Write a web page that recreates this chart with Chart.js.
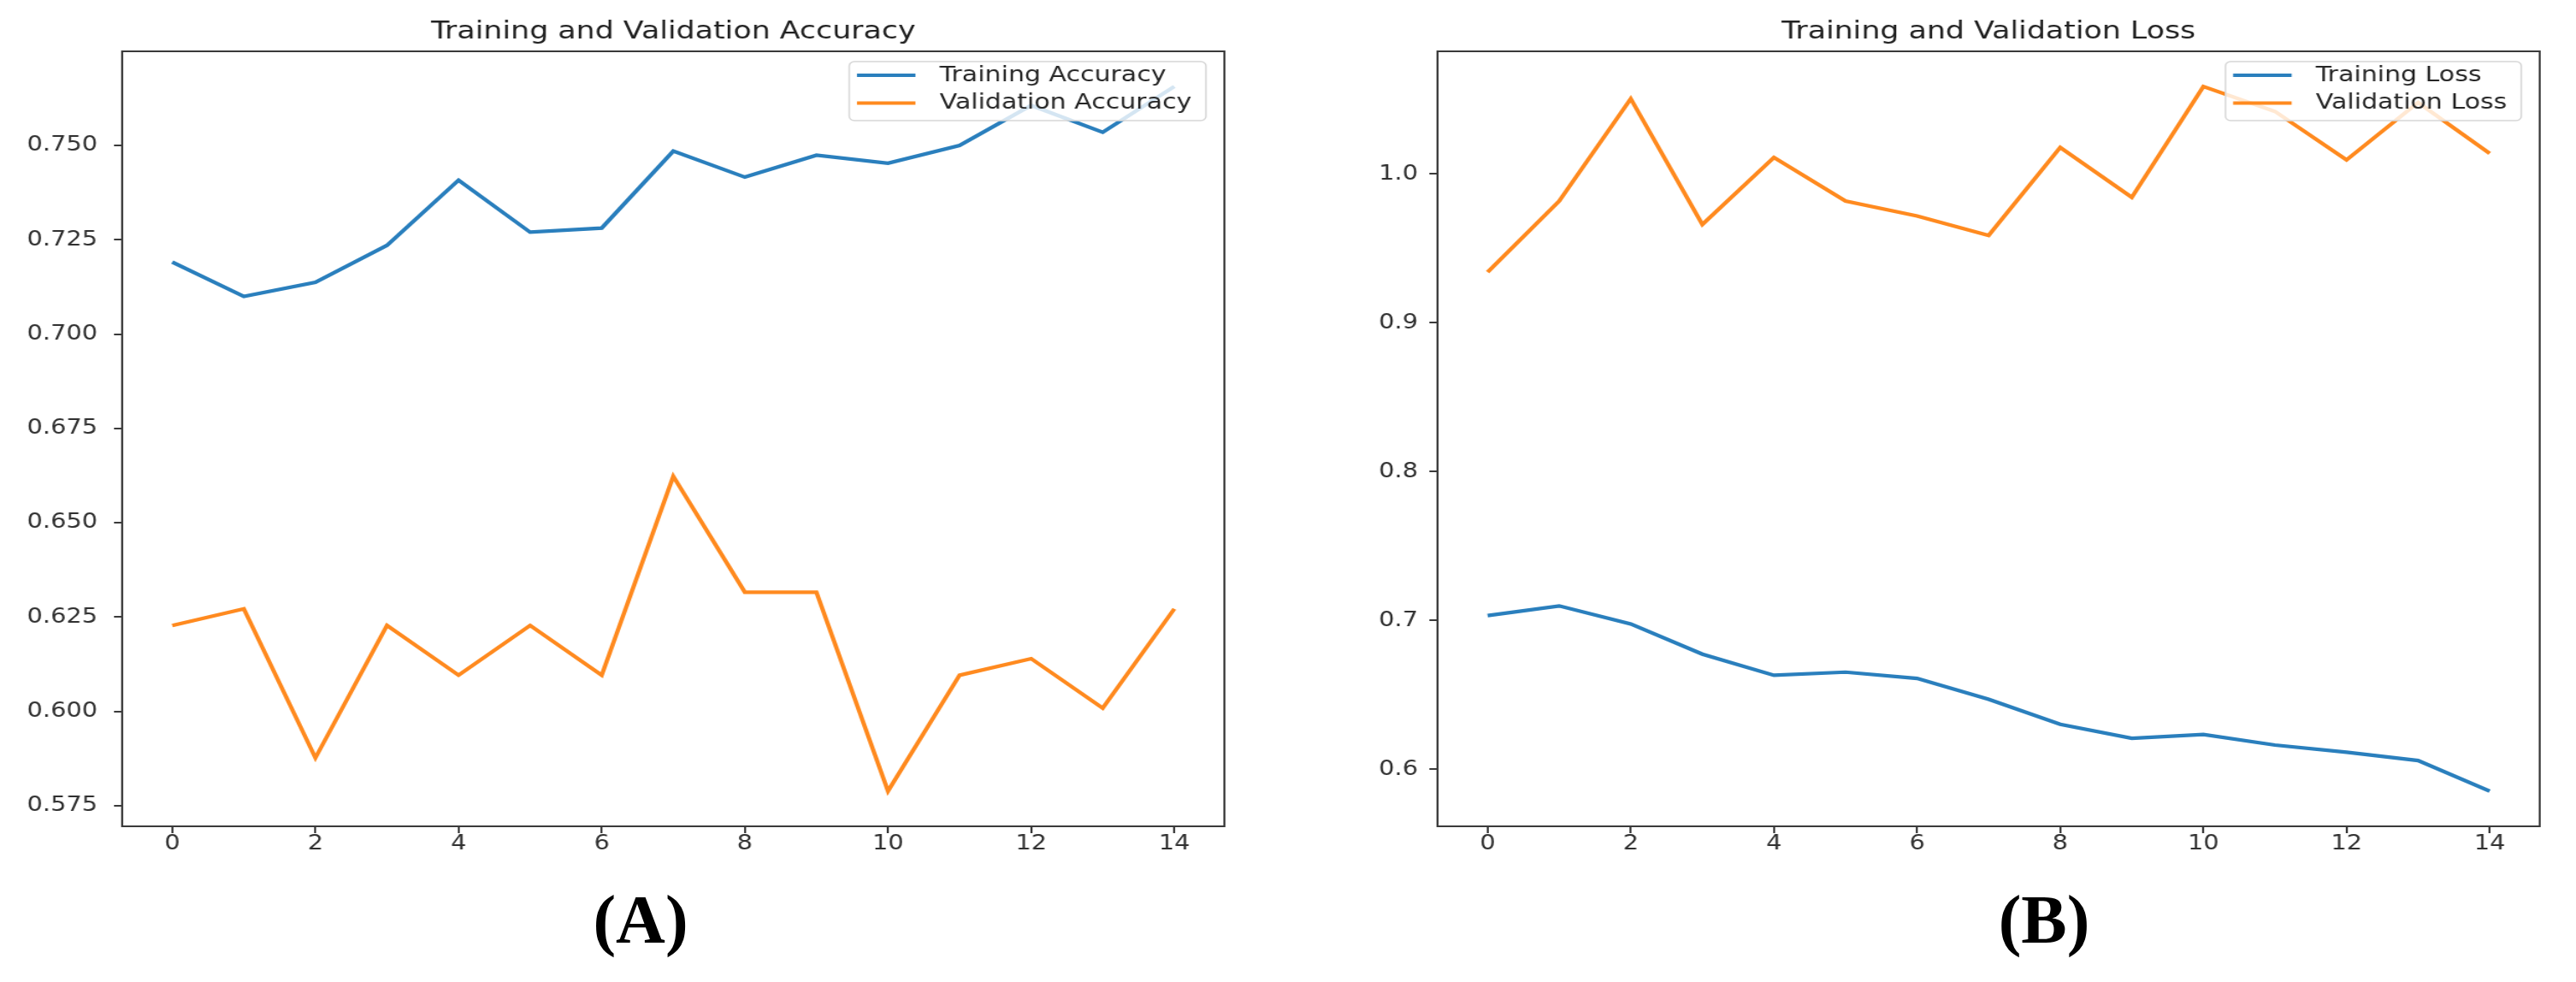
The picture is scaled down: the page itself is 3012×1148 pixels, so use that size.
<!DOCTYPE html>
<html>
<head>
<meta charset="utf-8">
<script src="https://cdn.jsdelivr.net/npm/chart.js@4.4.1/dist/chart.umd.min.js"></script>
<style>
  html, body { margin: 0; padding: 0; background: #fff; }
  body { width: 3012px; height: 1148px; position: relative; overflow: hidden; }
  /* the source figure is stretched a bit horizontally */
  .panel { position: absolute; top: 0; transform: scaleX(1.2); transform-origin: 0 0; }
  .tag { position: absolute; top: 1030px; width: 400px; text-align: center; line-height: 1;
         font: bold 80px "Liberation Serif", "Times New Roman", serif; color: #000; }
</style>
</head>
<body>
<div class="panel" style="left:0px"><canvas id="accChart" width="1197" height="1148"></canvas></div>
<div class="panel" style="left:1538px"><canvas id="lossChart" width="1197" height="1148"></canvas></div>
<div class="tag" style="left:549px">(A)</div>
<div class="tag" style="left:2190px">(B)</div>
<script>
const epochs = [0, 1, 2, 3, 4, 5, 6, 7, 8, 9, 10, 11, 12, 13, 14];
const trainAcc = [0.7191, 0.7100, 0.7137, 0.7235, 0.7408, 0.7270, 0.7281, 0.7485, 0.7416, 0.7474, 0.7453, 0.7500, 0.7606, 0.7535, 0.7656];
const valAcc = [0.6228, 0.6272, 0.5877, 0.6228, 0.6096, 0.6228, 0.6096, 0.6623, 0.6316, 0.6316, 0.5789, 0.6096, 0.6140, 0.6009, 0.6272];
const trainLoss = [0.7033, 0.7098, 0.6977, 0.6774, 0.6632, 0.6653, 0.6611, 0.6471, 0.6303, 0.6209, 0.6234, 0.6163, 0.6115, 0.6059, 0.5854];
const valLoss = [0.9340, 0.9818, 1.0505, 0.9660, 1.0111, 0.9818, 0.9717, 0.9587, 1.0178, 0.9843, 1.0587, 1.0420, 1.0094, 1.0480, 1.0138];
const xTicks = [0, 2, 4, 6, 8, 10, 12, 14];
const accTicks = [0.575, 0.600, 0.625, 0.650, 0.675, 0.700, 0.725, 0.750];
const lossTicks = [0.6, 0.7, 0.8, 0.9, 1.0];

const BLUE = '#2a7fbd';
const ORANGE = '#ff8a1f';
const FONT = 'DejaVu Sans';

// matplotlib style 5% margins
function limits(...arrs) {
  const all = [].concat(...arrs);
  const lo = Math.min(...all), hi = Math.max(...all);
  const pad = (hi - lo) * 0.05;
  return [lo - pad, hi + pad];
}

const frame = {
  id: 'frame',
  afterDatasetsDraw(chart) {
    const { ctx, chartArea: a } = chart;
    ctx.save();
    ctx.strokeStyle = '#3a3a3a';
    ctx.lineWidth = 2;
    ctx.strokeRect(a.left, a.top, a.right - a.left, a.bottom - a.top);
    ctx.restore();
  }
};

// legend box in upper right corner, inside the axes
const insideLegend = {
  id: 'insideLegend',
  afterDraw(chart) {
    const { ctx, chartArea } = chart;
    const sets = chart.data.datasets;
    ctx.save();
    ctx.font = '25px "' + FONT + '"';
    const textW = Math.max(...sets.map(d => ctx.measureText(d.label).width));
    const w = 88 + textW + 14, h = 69;
    const x = chartArea.right - 18 - w, y = chartArea.top + 12;
    ctx.beginPath();
    ctx.roundRect(x, y, w, h, 5);
    ctx.fillStyle = 'rgba(255,255,255,0.8)';
    ctx.fill();
    ctx.strokeStyle = '#d6d6d6';
    ctx.lineWidth = 1.5;
    ctx.stroke();
    sets.forEach((d, i) => {
      const cy = y + 16 + i * 32.5;
      ctx.strokeStyle = d.borderColor;
      ctx.lineWidth = 4;
      ctx.beginPath();
      ctx.moveTo(x + 7.5, cy);
      ctx.lineTo(x + 64.5, cy);
      ctx.stroke();
      ctx.fillStyle = '#262626';
      ctx.textBaseline = 'middle';
      ctx.textAlign = 'left';
      ctx.fillText(d.label, x + 88, cy);
    });
    ctx.restore();
  }
};

function makeChart(id, title, series, yTicks, decimals, labelPad) {
  const [ymin, ymax] = limits(...series.map(s => s.values));
  const xPad = (epochs[epochs.length - 1] - epochs[0]) * 0.05;
  return new Chart(document.getElementById(id), {
    type: 'line',
    data: {
      datasets: series.map(s => ({
        label: s.label,
        data: epochs.map((e, i) => ({ x: e, y: s.values[i] })),
        borderColor: s.color,
        backgroundColor: s.color,
        borderWidth: 4.2,
        pointRadius: 0,
        tension: 0,
        fill: false
      }))
    },
    options: {
      responsive: false,
      animation: false,
      devicePixelRatio: 1,
      layout: { padding: { top: 20, right: 4, left: 0, bottom: 0 } },
      plugins: {
        legend: { display: false },
        tooltip: { enabled: false },
        title: {
          display: true,
          text: title,
          fullSize: false,
          color: '#222',
          font: { family: FONT, size: 29, weight: 'normal', lineHeight: 1.2 },
          padding: { top: 0, bottom: 5.2 }
        }
      },
      scales: {
        x: {
          type: 'linear',
          min: epochs[0] - xPad,
          max: epochs[epochs.length - 1] + xPad,
          afterBuildTicks: s => { s.ticks = xTicks.map(v => ({ value: v })); },
          afterFit: s => { s.height = 182; },
          grid: { drawOnChartArea: false, drawTicks: true, tickLength: 8, color: '#3a3a3a', lineWidth: 2 },
          border: { display: true, color: '#3a3a3a', width: 2 },
          ticks: {
            padding: 1,
            color: '#303030',
            font: { family: FONT, size: 24, lineHeight: 1 },
            maxRotation: 0,
            callback: v => String(v)
          }
        },
        y: {
          type: 'linear',
          min: ymin,
          max: ymax,
          afterBuildTicks: s => { s.ticks = yTicks.map(v => ({ value: v })); },
          afterFit: s => { s.width = 119; },
          grid: { drawOnChartArea: false, drawTicks: true, tickLength: 8, color: '#3a3a3a', lineWidth: 2 },
          border: { display: true, color: '#3a3a3a', width: 2 },
          ticks: {
            padding: labelPad,
            color: '#303030',
            font: { family: FONT, size: 24, lineHeight: 1 },
            callback: v => v.toFixed(decimals)
          }
        }
      }
    },
    plugins: [frame, insideLegend]
  });
}

makeChart('accChart', 'Training and Validation Accuracy', [
  { label: 'Training Accuracy', values: trainAcc, color: BLUE },
  { label: 'Validation Accuracy', values: valAcc, color: ORANGE }
], accTicks, 3, 16);

makeChart('lossChart', 'Training and Validation Loss', [
  { label: 'Training Loss', values: trainLoss, color: BLUE },
  { label: 'Validation Loss', values: valLoss, color: ORANGE }
], lossTicks, 1, 11);
</script>
</body>
</html>
